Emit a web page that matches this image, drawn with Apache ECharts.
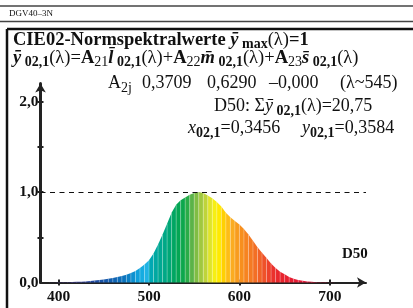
<!DOCTYPE html>
<html>
<head>
<meta charset="utf-8">
<script src="https://cdn.jsdelivr.net/npm/echarts@6/dist/echarts.min.js"></script>
<style>
html, body { margin: 0; padding: 0; background: #fff; }
#main { width: 413px; height: 308px; }
</style>
</head>
<body>
<div id="main"></div>
<script>
// Wellenlaengen (nm) und y-Normspektralwerte (D50-gewichtet, max = 1)
var wavelengths = [380, 385, 390, 395, 400, 405, 410, 415, 420, 425, 430, 435, 440, 445, 450, 455,
    460, 465, 470, 475, 480, 485, 490, 495, 500, 505, 510, 515, 520, 525, 530, 535, 540, 545, 550,
    555, 560, 565, 570, 575, 580, 585, 590, 595, 600, 605, 610, 615, 620, 625, 630, 635, 640, 645,
    650, 655, 660, 665, 670, 675, 680, 685, 690, 695, 700, 705, 710, 715, 720, 725, 730];
var yValues = [0.000, 0.000, 0.001, 0.001, 0.002, 0.003, 0.004, 0.005, 0.007, 0.009, 0.012, 0.016,
    0.021, 0.027, 0.033, 0.041, 0.050, 0.060, 0.072, 0.087, 0.105, 0.128, 0.160, 0.200, 0.245, 0.320,
    0.420, 0.530, 0.650, 0.770, 0.860, 0.910, 0.940, 0.970, 0.990, 1.000, 0.990, 0.960, 0.930, 0.890,
    0.840, 0.770, 0.720, 0.680, 0.640, 0.590, 0.530, 0.460, 0.390, 0.330, 0.270, 0.210, 0.160, 0.120,
    0.090, 0.060, 0.042, 0.028, 0.018, 0.011, 0.007, 0.004, 0.003, 0.002, 0.001, 0.001, 0.000, 0.000,
    0.000, 0.000, 0.000];
var xTickLabels = [400, 500, 600, 700];
var yTickLabels = [0, 1, 2];
var yMinorTicks = [0.5, 1, 1.5, 2];
var refLevel = 1.0;

// Spektralfarben
var colorStops = [
    [380, '#5a2a8a'], [420, '#3a3a9a'], [440, '#1e4aa0'], [460, '#1060b0'], [475, '#0a78c0'],
    [490, '#10a8e0'], [498, '#20b4e4'], [501, '#00a8b8'], [510, '#00a898'], [520, '#00a880'],
    [530, '#00a558'], [540, '#10a848'], [548, '#60b448'], [556, '#98c440'], [564, '#c8d838'],
    [570, '#f0ec20'], [576, '#fff200'], [582, '#ffd200'], [590, '#fcb422'], [600, '#f7941d'],
    [610, '#f57f22'], [620, '#f26a26'], [630, '#ee4a2a'], [640, '#ea2a2c'], [655, '#e61e30'],
    [680, '#e0143a'], [730, '#c8103c']
];

function hexToRgb(h) {
    return [parseInt(h.substr(1, 2), 16), parseInt(h.substr(3, 2), 16), parseInt(h.substr(5, 2), 16)];
}
function spectralColor(l) {
    if (l <= colorStops[0][0]) return colorStops[0][1];
    for (var i = 1; i < colorStops.length; i++) {
        if (l <= colorStops[i][0]) {
            var a = colorStops[i - 1], b = colorStops[i];
            var t = (l - a[0]) / (b[0] - a[0]);
            var ca = hexToRgb(a[1]), cb = hexToRgb(b[1]);
            return 'rgb(' + Math.round(ca[0] + (cb[0] - ca[0]) * t) + ',' +
                Math.round(ca[1] + (cb[1] - ca[1]) * t) + ',' +
                Math.round(ca[2] + (cb[2] - ca[2]) * t) + ')';
        }
    }
    return colorStops[colorStops.length - 1][1];
}

// Baender zwischen zwei Stuetzstellen
var bands = [];
for (var i = 0; i < wavelengths.length - 1; i++) {
    bands.push([wavelengths[i], yValues[i], wavelengths[i + 1], yValues[i + 1]]);
}

var serif = '"Liberation Serif", "Times New Roman", serif';
var rich = {
    b: {fontFamily: serif, fontWeight: 'bold', fontSize: 18.5, lineHeight: 24},
    bi: {fontFamily: serif, fontWeight: 'bold', fontStyle: 'italic', fontSize: 18.5, lineHeight: 24},
    r: {fontFamily: serif, fontSize: 18.5, lineHeight: 24},
    bs: {fontFamily: serif, fontWeight: 'bold', fontSize: 14, lineHeight: 14, verticalAlign: 'bottom'},
    rs: {fontFamily: serif, fontSize: 14, lineHeight: 14, verticalAlign: 'bottom'},
    r18: {fontFamily: serif, fontSize: 18, lineHeight: 24},
    i18: {fontFamily: serif, fontStyle: 'italic', fontSize: 18, lineHeight: 24}
};

function textEl(x, y, str) {
    return {
        type: 'text', left: x, top: y, z: 10,
        style: {text: str, rich: rich, fill: '#111', font: '18px ' + serif}
    };
}

var chart = echarts.init(document.getElementById('main'));
chart.setOption({
    backgroundColor: '#fff',
    animation: false,
    grid: {left: 40.5, top: 83.4, width: 325.5, height: 199.1},
    xAxis: [{
        type: 'value', min: 380, max: 740,
        splitLine: {show: false},
        axisLine: {show: true, lineStyle: {color: '#222', width: 2}, symbol: ['none', 'arrow'], symbolSize: [8, 9]},
        axisTick: {show: true, customValues: xTickLabels, length: 3, lineStyle: {color: '#222', width: 2}},
        axisLabel: {
            customValues: xTickLabels, margin: 6, color: '#111',
            fontFamily: serif, fontWeight: 'bold', fontSize: 15.5
        }
    }, {
        type: 'value', min: 380, max: 740, position: 'bottom',
        splitLine: {show: false}, axisLine: {show: false}, axisLabel: {show: false},
        axisTick: {show: true, inside: true, customValues: xTickLabels, length: 3, lineStyle: {color: '#222', width: 2}}
    }],
    yAxis: [{
        type: 'value', min: 0, max: 2.2,
        splitLine: {show: false},
        axisLine: {show: true, lineStyle: {color: '#222', width: 3}, symbol: ['none', 'arrow'], symbolSize: [8, 9]},
        axisTick: {show: true, customValues: yMinorTicks, length: 3, lineStyle: {color: '#222', width: 2}},
        axisLabel: {
            customValues: yTickLabels, margin: 2, color: '#111',
            fontFamily: serif, fontWeight: 'bold', fontSize: 15.5,
            formatter: function (v) { return v.toFixed(1).replace('.', ','); }
        }
    }, {
        type: 'value', min: 0, max: 2.2, position: 'left',
        splitLine: {show: false}, axisLine: {show: false}, axisLabel: {show: false},
        axisTick: {show: true, inside: true, customValues: yMinorTicks, length: 3, lineStyle: {color: '#222', width: 2}}
    }],
    series: [{
        type: 'custom',
        data: bands,
        encode: {x: [0, 2], y: [1, 3]},
        z: 2,
        renderItem: function (params, api) {
            var l0 = api.value(0), v0 = api.value(1), l1 = api.value(2), v1 = api.value(3);
            var p0 = api.coord([l0, 0]), p1 = api.coord([l0, v0]);
            var p2 = api.coord([l1, v1]), p3 = api.coord([l1, 0]);
            return {
                type: 'group',
                children: [{
                    type: 'polygon',
                    shape: {points: [p0, p1, p2, p3]},
                    style: {fill: spectralColor((l0 + l1) / 2), stroke: null}
                }, {
                    type: 'line',
                    shape: {x1: p0[0], y1: p0[1], x2: p1[0], y2: p1[1]},
                    style: {stroke: 'rgba(255,255,255,0.45)', lineWidth: 0.6}
                }]
            };
        }
    }, {
        type: 'line',
        data: [],
        markLine: {
            silent: true, symbol: 'none',
            label: {show: false},
            lineStyle: {color: '#111', width: 1.2, type: [5, 4.5]},
            data: [[{coord: [380, refLevel]}, {coord: [740, refLevel]}]]
        }
    }],
    graphic: [
        {type: 'line', z: 10, shape: {x1: 0, y1: 6, x2: 413, y2: 6}, style: {stroke: '#444', lineWidth: 1.5}},
        {type: 'line', z: 10, shape: {x1: 0, y1: 21.5, x2: 413, y2: 21.5}, style: {stroke: '#444', lineWidth: 1.5}},
        {type: 'text', left: 9, top: 9, z: 10, style: {text: 'DGV40–3N', fill: '#111', font: '9px ' + serif}},
        {type: 'line', z: 10, shape: {x1: 7, y1: 29, x2: 413, y2: 29}, style: {stroke: '#111', lineWidth: 2.5}},
        {type: 'line', z: 10, shape: {x1: 7, y1: 29, x2: 7, y2: 308}, style: {stroke: '#111', lineWidth: 2.5}},
        textEl(13, 30.3, '{b|CIE02-Normspektralwerte }{bi|ȳ}{bs| max}{r|(λ)}{b|=1}'),
        textEl(13, 48.3, '{bi|ȳ}{bs| 02,1}{r|(λ)=}{b|A}{rs|21}{bi|l\u0304}{bs| 02,1}{r|(λ)+}{b|A}{rs|22}{bi|m\u0304}{bs| 02,1}{r|(λ)+}{b|A}{rs|23}{bi|s\u0304}{bs| 02,1}{r|(λ)}'),
        textEl(108, 74.4, '{r18|A}{rs|2j}'),
        textEl(142, 74.4, '{r18|0,3709}'),
        textEl(207, 74.4, '{r18|0,6290}'),
        textEl(269, 74.4, '{r18|–0,000}'),
        textEl(340, 74.4, '{r18|(λ~545)}'),
        textEl(214, 97.4, '{r18|D50: Σ}{i18|ȳ}{bs| 02,1}{r18|(λ)=20,75}'),
        textEl(188, 119.4, '{i18|x}{bs|02,1}{r18|=0,3456}'),
        textEl(302, 119.4, '{i18|y}{bs|02,1}{r18|=0,3584}'),
        {type: 'text', left: 342, top: 247, z: 10, style: {text: 'D50', fill: '#111', font: 'bold 15px ' + serif}}
    ]
});

window.onresize = function () {
    chart.resize();
};
</script>
</body>
</html>
